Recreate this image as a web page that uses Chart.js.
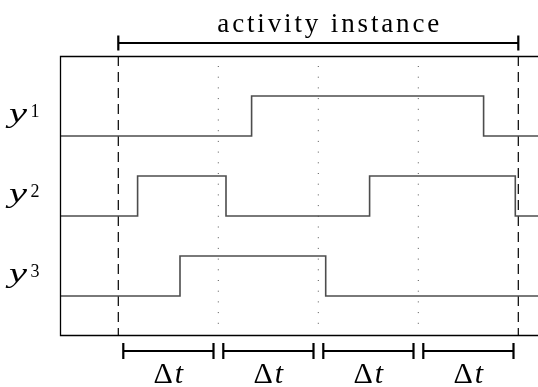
<!DOCTYPE html>
<html>
<head>
<meta charset="utf-8">
<script src="https://cdn.jsdelivr.net/npm/chart.js@4"></script>
<style>
html,body{margin:0;padding:0;background:#fff;}
canvas{display:block;}
</style>
</head>
<body>
<canvas id="c" width="538" height="387"></canvas>
<script>
// ---- data ----
const channelNames = ['y', 'y', 'y'];
const channelSup = ['1', '2', '3'];
const channelBase = [4, 2, 0];           // vertical offset of each channel (in level units)
const timeY1 = [-0.59, 1.333, 1.333, 3.653, 3.653, 4.25];
const levelY1 = [0, 0, 1, 1, 0, 0];
const timeY2 = [-0.59, 0.193, 0.193, 1.077, 1.077, 2.513, 2.513, 3.97, 3.97, 4.25];
const levelY2 = [0, 0, 1, 1, 0, 0, 1, 1, 0, 0];
const timeY3 = [-0.59, 0.617, 0.617, 2.074, 2.074, 4.25];
const levelY3 = [0, 0, 1, 1, 0, 0];
const instanceBounds = [0, 4];           // dashed lines: activity instance start / end
const windowBounds = [1, 2, 3];          // dotted lines between Δt windows
const windowStarts = [0, 1, 2, 3];       // Δt windows
const topLabel = 'activity instance';
const windowLabel = ['Δ', 't'];

const signals = [[timeY1, levelY1], [timeY2, levelY2], [timeY3, levelY3]];

const datasets = [];
signals.forEach(([ts, ls], i) => {
  datasets.push({
    data: ts.map((t, k) => ({x: t, y: channelBase[i] + ls[k]})),
    borderColor: '#4d4d4d', borderWidth: 1.6, pointRadius: 0, tension: 0, fill: false
  });
});
instanceBounds.forEach(t => {
  datasets.push({
    data: [{x: t, y: 6}, {x: t, y: -1}],
    borderColor: '#000', borderWidth: 1.2, borderDash: [10, 6], pointRadius: 0, fill: false
  });
});
windowBounds.forEach(t => {
  datasets.push({
    data: [{x: t, y: 5.75}, {x: t, y: -0.78}],
    borderColor: '#555', borderWidth: 1, borderDash: [1, 9.7], pointRadius: 0, fill: false
  });
});

const SERIF = '"Liberation Serif", "DejaVu Serif", serif';

const decor = {
  id: 'decor',
  afterDatasetsDraw(chart) {
    const {ctx, chartArea: a, scales: {x, y}} = chart;
    ctx.save();
    // box (left, top, bottom)
    ctx.strokeStyle = '#000';
    ctx.lineWidth = 1.3;
    ctx.beginPath();
    ctx.moveTo(a.right + 2, a.top + 0.5);
    ctx.lineTo(a.left + 0.5, a.top + 0.5);
    ctx.lineTo(a.left + 0.5, a.bottom - 0.5);
    ctx.lineTo(a.right + 2, a.bottom - 0.5);
    ctx.stroke();

    // top bracket
    const xs = x.getPixelForValue(instanceBounds[0]);
    const xe = x.getPixelForValue(instanceBounds[1]);
    const yb = a.top - 13;
    ctx.lineWidth = 2.2;
    ctx.beginPath();
    ctx.moveTo(xs, yb); ctx.lineTo(xe, yb);
    ctx.moveTo(xs, yb - 7.5); ctx.lineTo(xs, yb + 7.5);
    ctx.moveTo(xe, yb - 7.5); ctx.lineTo(xe, yb + 7.5);
    ctx.stroke();

    // top label
    ctx.fillStyle = '#000';
    ctx.font = '27px ' + SERIF;
    ctx.textBaseline = 'alphabetic';
    ctx.textAlign = 'left';
    const target = 222;
    const n = topLabel.length;
    const w0 = ctx.measureText(topLabel).width;
    const ls = (target - w0) / (n - 1);
    if ('letterSpacing' in ctx) ctx.letterSpacing = ls + 'px';
    ctx.fillText(topLabel, (xs + xe) / 2 + 10 - target / 2, 32);
    if ('letterSpacing' in ctx) ctx.letterSpacing = '0px';

    // bottom brackets
    const yB = a.bottom + 15;
    ctx.lineWidth = 2.2;
    windowStarts.forEach(t0 => {
      const p0 = x.getPixelForValue(t0 + 0.05);
      const p1 = x.getPixelForValue(t0 + 0.952);
      ctx.beginPath();
      ctx.moveTo(p0, yB); ctx.lineTo(p1, yB);
      ctx.moveTo(p0, yB - 8); ctx.lineTo(p0, yB + 8);
      ctx.moveTo(p1, yB - 8); ctx.lineTo(p1, yB + 8);
      ctx.stroke();
      const cx = x.getPixelForValue(t0 + 0.5);
      ctx.font = '30px ' + SERIF;
      const wD = ctx.measureText(windowLabel[0]).width;
      ctx.font = 'italic 30px ' + SERIF;
      const wt = ctx.measureText(windowLabel[1]).width;
      const start = cx - (wD + wt + 2) / 2;
      ctx.font = '30px ' + SERIF;
      ctx.fillText(windowLabel[0], start, 383);
      ctx.font = 'italic 30px ' + SERIF;
      ctx.fillText(windowLabel[1], start + wD + 2, 383);
    });

    // channel labels
    channelBase.forEach((b, i) => {
      const cy = y.getPixelForValue(b + 0.5);
      ctx.save();
      ctx.translate(9, cy + 6);
      ctx.scale(1.45, 1);
      ctx.font = 'italic 28px ' + SERIF;
      ctx.fillText(channelNames[i], 0, 0);
      ctx.restore();
      ctx.font = '18px ' + SERIF;
      ctx.fillText(channelSup[i], 30.5, cy + 0.5);
    });
    ctx.restore();
  }
};

new Chart(document.getElementById('c'), {
  type: 'line',
  data: {datasets},
  options: {
    responsive: false,
    animation: false,
    devicePixelRatio: 1,
    layout: {padding: {left: 60, top: 56, right: 0, bottom: 51}},
    plugins: {legend: {display: false}, tooltip: {enabled: false}},
    scales: {
      x: {type: 'linear', display: false, min: -0.583, max: 4.197},
      y: {type: 'linear', display: false, min: -1, max: 6}
    }
  },
  plugins: [decor]
});
</script>
</body>
</html>
